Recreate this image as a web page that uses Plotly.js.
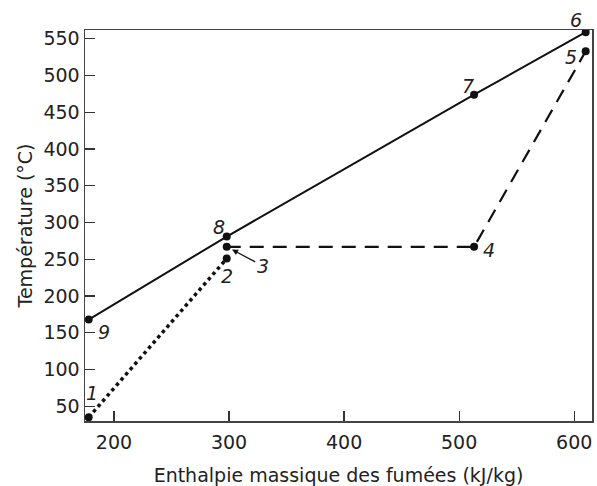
<!DOCTYPE html>
<html><head><meta charset="utf-8">
<script src="https://cdn.plot.ly/plotly-3.0.1.min.js"></script>
<style>body{margin:0;background:#fff}#c{width:597px;height:486px}</style>
</head><body><div id="c"></div>
<script>
// Points (enthalpy kJ/kg, temperature °C)
const labels = ['1','2','3','4','5','6','7','8','9'];
const enthalpy = [178, 298, 298, 513, 610, 610, 513, 298, 178];
const temperature = [35, 251, 267, 267, 533, 559, 474, 281, 168];
// series as index lists
const solidIdx = [8, 7, 6, 5];   // 9-8-7-6
const dottedIdx = [0, 1];        // 1-2
const dashedIdx = [2, 3, 4];     // 3-4-5
const xTicks = [200, 300, 400, 500, 600];
const yTicks = [50, 100, 150, 200, 250, 300, 350, 400, 450, 500, 550];

const pick = (arr, idx) => idx.map(i => arr[i]);
const lineCol = '#111';
const mk = {size: 8, color: lineCol};

const traces = [
  {x: pick(enthalpy, solidIdx), y: pick(temperature, solidIdx), mode: 'lines+markers',
   line: {color: lineCol, width: 2}, marker: mk},
  {x: pick(enthalpy, dottedIdx), y: pick(temperature, dottedIdx), mode: 'lines+markers',
   line: {color: lineCol, width: 3.5, dash: 'dot'}, marker: mk},
  {x: pick(enthalpy, dashedIdx), y: pick(temperature, dashedIdx), mode: 'lines+markers',
   line: {color: lineCol, width: 2.2, dash: '14px,9px'}, marker: mk}
];

// label offsets in pixels (xshift, yshift)
const shifts = {
  '1': [3, 24], '2': [0, -17], '4': [15, -3], '5': [-15, -6],
  '6': [-10, 12], '7': [-6, 9], '8': [-8, 10], '9': [15, -12]
};
const font = {family: 'DejaVu Sans, sans-serif', size: 19, color: '#222'};
const annotations = labels.map((l, i) => {
  if (l === '3') {
    return {x: enthalpy[i], y: temperature[i], text: '<i>3</i>', showarrow: true,
      ax: 36, ay: 19, arrowhead: 2, arrowsize: 1, arrowwidth: 1.2, arrowcolor: lineCol,
      standoff: 6, font: font};
  }
  return {x: enthalpy[i], y: temperature[i], text: '<i>' + l + '</i>', showarrow: false,
    xshift: shifts[l][0], yshift: shifts[l][1], font: font};
});

const axisCommon = {showgrid: false, zeroline: false, showline: true, linecolor: '#444',
  linewidth: 1.5, mirror: true, ticks: 'inside', ticklen: 10, tickwidth: 1.2, tickcolor: '#333',
  tickfont: font};

const layout = {
  width: 597, height: 486,
  margin: {l: 85, r: 5, t: 30, b: 65},
  paper_bgcolor: '#fff', plot_bgcolor: '#fff',
  showlegend: false,
  font: font,
  xaxis: Object.assign({}, axisCommon, {range: [174.8, 615.5], tickvals: xTicks,
    ticklabelstandoff: 4,
    title: {text: 'Enthalpie massique des fumées (kJ/kg)', font: font, standoff: 16}}),
  yaxis: Object.assign({}, axisCommon, {range: [30, 562], tickvals: yTicks,
    title: {text: 'Température (°C)', font: font, standoff: 6}}),
  annotations: annotations
};
Plotly.newPlot('c', traces, layout, {staticPlot: true});
</script></body></html>
